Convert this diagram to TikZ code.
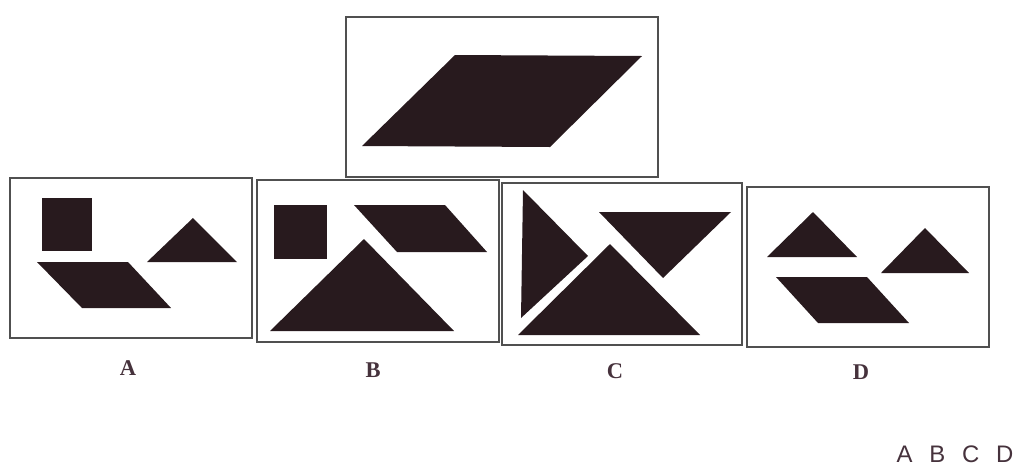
\documentclass[tikz,border=0pt]{standalone}
\usepackage{fontspec}
\setmainfont{Liberation Serif}
\newfontfamily\keyfont{Liberation Sans}
\usetikzlibrary{positioning}
\definecolor{tgDark}{RGB}{40,26,30}
\definecolor{tgFrame}{RGB}{80,80,80}
\definecolor{tgLabel}{RGB}{70,50,60}

\begin{document}
\begin{tikzpicture}[
  x=0.05cm, y=-0.05cm,
  frame/.style={draw=tgFrame, line width=1.8pt},
  piece/.style={fill=tgDark},
  optlbl/.style={font=\fontsize{32}{36}\selectfont\bfseries, text=tgLabel, inner sep=0pt},
  keylbl/.style={font=\keyfont\fontsize{34}{38}\selectfont, text=tgLabel, inner sep=0pt},
]
\useasboundingbox (0,0) rectangle (1015,467);
% target shape
\draw[frame] (346,17) rectangle (658,177);
\fill[piece] (455,55) -- (642,56) -- (550,147) -- (362,146) -- cycle;
% option A
\draw[frame] (10,178) rectangle (252,338);
\fill[piece] (42,198) rectangle (92,251);
\fill[piece] (193,218) -- (237,262) -- (147,262) -- cycle;
\fill[piece] (37,262) -- (128,262) -- (171,308) -- (82,308) -- cycle;
% option B
\draw[frame] (257,180) rectangle (499,342);
\fill[piece] (274,205) rectangle (327,259);
\fill[piece] (354,205) -- (445,205) -- (487,252) -- (397,252) -- cycle;
\fill[piece] (364,239) -- (454,331) -- (270,331) -- cycle;
% option C
\draw[frame] (502,183) rectangle (742,345);
\fill[piece] (523,190) -- (588,256) -- (521,318) -- cycle;
\fill[piece] (599,212) -- (731,212) -- (663,278) -- cycle;
\fill[piece] (610,244) -- (700,335) -- (518,335) -- cycle;
% option D
\draw[frame] (747,187) rectangle (989,347);
\fill[piece] (813,212) -- (857,257) -- (767,257) -- cycle;
\fill[piece] (925,228) -- (969,273) -- (881,273) -- cycle;
\fill[piece] (776,277) -- (867,277) -- (909,323) -- (818,323) -- cycle;
% labels
\node[optlbl] (labA) at (128,368) {A};
\node[optlbl] (labB) at (373,370) {B};
\node[optlbl] (labC) at (615,371) {C};
\node[optlbl] (labD) at (861,372) {D};
\node[keylbl] (keys) at (955,454) {A\hspace{0.7em}B\hspace{0.7em}C\hspace{0.7em}D};
\end{tikzpicture}
\end{document}
